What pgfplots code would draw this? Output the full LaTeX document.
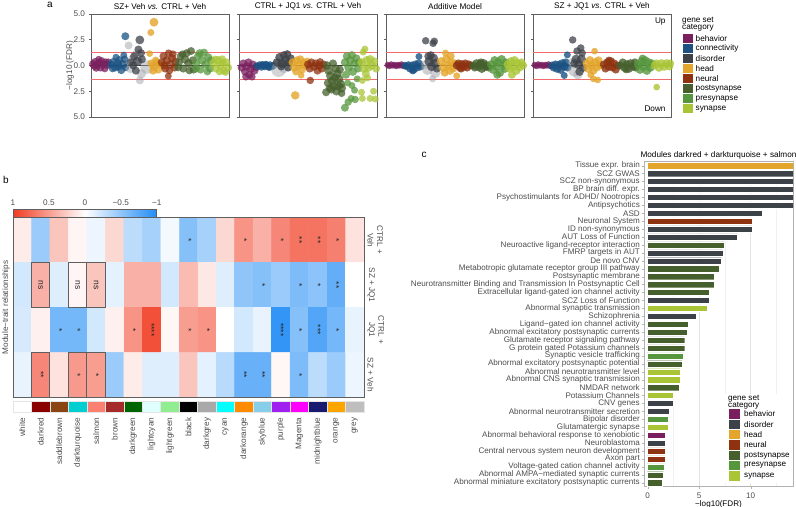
\documentclass[border=0pt]{standalone}
\usepackage{pgfplots}
\pgfplotsset{compat=1.18}
\usepackage{fontspec}
\setmainfont{Liberation Sans}
\definecolor{behav}{HTML}{7A1F5E}
\definecolor{conn}{HTML}{1B5283}
\definecolor{disor}{HTML}{3D4249}
\definecolor{disorL}{HTML}{9EA2A7}
\definecolor{head}{HTML}{E3A52B}
\definecolor{neural}{HTML}{8E3210}
\definecolor{posts}{HTML}{46602D}
\definecolor{pres}{HTML}{56963D}
\definecolor{syn}{HTML}{A9C536}
\definecolor{txtg}{HTML}{4D4D4D}
\definecolor{frameg}{HTML}{5F5F5F}
\definecolor{redl}{HTML}{F26B6B}
\definecolor{m0}{HTML}{FFFFFF}\definecolor{m1}{HTML}{8B0000}\definecolor{m2}{HTML}{8B4513}
\definecolor{m3}{HTML}{00CED1}\definecolor{m4}{HTML}{FA8072}\definecolor{m5}{HTML}{A52A2A}
\definecolor{m6}{HTML}{006400}\definecolor{m7}{HTML}{E0FFFF}\definecolor{m8}{HTML}{90EE90}
\definecolor{m9}{HTML}{000000}\definecolor{m10}{HTML}{A9A9A9}\definecolor{m11}{HTML}{00FFFF}
\definecolor{m12}{HTML}{FF8C00}\definecolor{m13}{HTML}{87CEEB}\definecolor{m14}{HTML}{A020F0}
\definecolor{m15}{HTML}{FF00FF}\definecolor{m16}{HTML}{191970}\definecolor{m17}{HTML}{FFA500}
\definecolor{m18}{HTML}{BEBEBE}
\newcommand\fs{\fontsize{8.2bp}{9.4bp}\selectfont}
\newcommand\fsc{\fontsize{8.1bp}{9.4bp}\selectfont}
\newcommand\fss{\fontsize{8.5bp}{9bp}\selectfont}
\pgfplotsset{
  bub/.style 2 args={scatter, only marks, mark=*, point meta=y,
    scatter/use mapped color={draw=none, draw opacity=0, fill=#1, fill opacity=#2},
    mark options={draw=none},
    visualization depends on={1.35*\thisrow{s}\as\ms},
    scatter/@pre marker code/.append style={/tikz/mark size=\ms}},
  panA/.style={scale only axis, width=138bp, height=103bp, anchor=south west,
    xmin=0, xmax=8, ymin=-5, ymax=5, xtick=\empty, ytick={-5,-2.5,0,2.5,5},
    yticklabels={}, ytick pos=left, tick align=outside, major tick length=2.5bp,
    axis line style={frameg, line width=0.9bp}, tick style={frameg, line width=0.6bp},
    title style={font=\fs, at={(0.5,1)}, anchor=south, inner sep=0pt, yshift=-2bp}},
  thr/.style={redl, line width=0.7bp, forget plot},
  zer/.style={black!80, line width=1.2bp, forget plot},
}
\begin{document}
\begin{tikzpicture}[x=1bp,y=1bp]
\useasboundingbox (0,0) rectangle (796,507);
% ================= panel a =================
\begin{axis}[panA, at={(91bp,390bp)}, title={SZ+ Veh \textit{vs.} CTRL + Veh},
  yticklabels={5.0,2.5,0.0,2.5,5.0}, yticklabel style={font=\fs, text=txtg}]
\addplot[bub={behav}{0.75}] table {
x y s
0.12 0.15 3
0.25 0.35 3
0.35 0.05 3.2
0.5 0.25 3
0.62 0.45 2.8
0.72 0.1 3.2
0.85 0.3 3
0.95 0.05 3
0.3 -0.25 2.8
0.55 -0.2 3
0.8 -0.3 2.8
0.45 0.6 2.6
0.2 -0.05 3
1.0 0.35 2.6
};
\addplot[bub={conn}{0.75}] table {
x y s
1.15 0.1 3
1.3 0.35 3
1.4 -0.2 3
1.55 0.2 3.2
1.65 0.55 2.8
1.75 -0.45 3
1.85 0.1 3.2
1.95 0.6 2.8
1.25 -0.3 2.8
1.6 -0.1 3
2.0 -0.2 2.8
1.9 1.0 2.6
1.45 0.8 2.6
1.99 2.84 3
};
\addplot[bub={disorL}{0.5}] table {
x y s
2.18 1.94 3
2.92 -0.8 3.5
2.83 -1.45 3
2.3 -0.3 3.5
3.25 -0.15 5
2.6 1.1 3
2.4 0.6 3.5
};
\addplot[bub={disor}{0.75}] table {
x y s
2.83 2.48 3.3
2.75 1.55 3
2.9 1.2 3
2.5 0.9 3
2.7 0.4 3.5
2.45 0.0 3
2.95 0.6 3
2.6 -0.5 3
2.3 0.3 3
};
\addplot[bub={head}{0.8}] table {
x y s
3.65 4.2 3.3
3.47 3.2 2.6
3.4 1.15 2.5
3.5 0.2 3
3.65 -0.1 3.2
3.8 0.3 3
3.9 -0.4 3
4.0 0.1 2.8
3.6 -0.5 3
3.75 0.5 2.8
};
\addplot[bub={neural}{0.75}] table {
x y s
4.1 0.3 3
4.2 0.9 3
4.3 -0.3 3
4.4 0.5 3.2
4.5 1.2 2.8
4.6 0.1 3.2
4.7 0.7 3
4.85 -0.2 3
4.9 0.4 3
4.25 0.0 3
4.48 -1.03 2.6
4.75 1.1 2.8
4.55 -0.5 2.8
};
\addplot[bub={posts}{0.75}] table {
x y s
5.1 0.3 3
5.2 0.9 3
5.35 -0.3 3
5.45 0.6 3.2
5.55 1.2 3
5.65 0.2 3.2
5.8 1.4 3
5.9 0.5 3
5.95 -0.4 3
5.3 1.1 2.8
5.7 -0.5 2.8
5.05 -0.2 2.8
};
\addplot[bub={pres}{0.75}] table {
x y s
6.1 0.2 3
6.2 0.9 3
6.35 -0.4 3
6.45 0.5 3.2
6.55 1.25 3
6.65 0.1 3.2
6.8 0.8 3
6.9 -0.3 3
6.95 0.5 3
6.3 1.2 3
6.75 -0.6 2.8
6.1 -0.3 2.8
};
\addplot[bub={syn}{0.75}] table {
x y s
7.1 0.2 3
7.25 -0.3 3
7.35 0.5 3.2
7.5 0.0 3.2
7.6 0.6 3
7.7 -0.5 3
7.85 0.3 3
7.95 -0.2 3
7.2 0.6 2.8
7.45 -0.6 2.8
7.8 -0.65 2.8
7.65 0.25 3
};
\addplot[thr] coordinates {(0,1.3) (8,1.3)};
\addplot[thr] coordinates {(0,-1.3) (8,-1.3)};
\addplot[zer] coordinates {(0,0) (8,0)};
\end{axis}

\begin{axis}[panA, at={(239bp,390bp)}, title={CTRL + JQ1 \textit{vs.} CTRL + Veh}]
\addplot[bub={behav}{0.75}] table {
x y s
0.15 -0.2 3
0.25 0.2 3
0.35 -0.6 3
0.45 -0.1 3.2
0.55 0.3 3
0.6 -0.9 3
0.7 -0.3 3.2
0.8 0.1 3
0.9 -0.5 3
1.0 -0.15 3
0.4 -1.1 2.8
0.75 -1.1 2.8
};
\addplot[bub={conn}{0.8}] table {
x y s
1.05 -0.05 2.8
1.2 0.05 2.8
1.3 -0.15 2.8
1.4 0.0 2.8
1.5 -0.1 2.8
1.6 0.05 2.8
1.7 -0.1 2.8
1.8 0.05 2.8
1.9 -0.1 2.8
2.0 0.0 2.8
1.35 0.1 2.6
1.75 -0.2 2.6
1.55 0.12 2.6
};
\addplot[bub={disorL}{0.45}] table {
x y s
2.3 -0.4 5.5
2.6 -0.3 3.5
2.2 0.1 3
};
\addplot[bub={disor}{0.8}] table {
x y s
2.2 0.3 3.2
2.35 0.8 3.2
2.5 0.2 3.5
2.6 1.0 3
2.7 0.5 3.5
2.8 1.1 3
2.9 0.3 3.2
3.0 0.7 3
2.45 -0.1 3
2.85 -0.2 3
};
\addplot[bub={head}{0.8}] table {
x y s
3.1 0.3 3
3.2 -0.2 3
3.35 0.5 3
3.45 0.0 3.2
3.55 0.6 3
3.65 -0.4 3
3.75 0.3 3
3.85 0.0 3
3.95 0.4 2.8
3.3 -0.6 2.8
3.6 -0.95 2.5
3.26 -2.9 3.2
};
\addplot[bub={neural}{0.75}] table {
x y s
4.0 0.1 3
4.1 -0.3 3
4.2 0.3 3
4.35 -0.1 3.2
4.45 0.2 3
4.55 -0.5 3
4.65 0.0 3.2
4.8 -0.3 3
4.9 0.1 3
4.13 -1.45 2.8
4.7 0.35 2.8
};
\addplot[bub={posts}{0.75}] table {
x y s
5.1 0.0 3.2
5.2 -0.5 3.3
5.3 -1.0 3.3
5.4 -1.5 3.3
5.5 -2.0 3.3
5.35 -2.3 3.3
5.6 -0.3 3.2
5.7 -0.8 3.3
5.8 -1.3 3.3
5.9 -1.8 3.3
5.95 -2.2 3.3
5.65 -2.5 3.2
5.15 -1.7 3
5.45 0.2 3
5.25 -2.2 3
5.75 -2.0 3.3
5.55 -1.2 3.3
5.85 -0.4 3
5.05 -2.6 3
5.95 -2.7 2.8
};
\addplot[bub={pres}{0.75}] table {
x y s
6.15 0.3 3.2
6.25 0.9 3
6.35 -0.2 3.2
6.45 0.5 3.2
6.55 1.0 3
6.6 -0.6 3.2
6.7 0.2 3
6.8 0.7 3
6.9 -0.3 3
6.95 0.3 3
6.2 -0.9 3
6.7 -2.4 2.6
6.55 -1.95 2.6
6.3 -1.7 2.6
6.14 -4.1 3
6.33 -3.55 2.8
6.73 -3.3 2.8
6.5 -3.2 2.6
6.85 -1.3 2.6
};
\addplot[bub={syn}{0.75}] table {
x y s
7.3 1.6 2.6
7.2 1.3 2.6
7.1 0.3 3.2
7.25 -0.3 3.2
7.4 0.5 3.2
7.5 -0.2 3.2
7.6 0.6 3.2
7.7 0.0 3.2
7.85 0.4 3
7.95 -0.3 3
7.35 -0.8 3
7.15 -1.45 2.6
7.1 -2.6 2.6
7.15 -3.2 2.6
7.6 -3.2 2.6
7.8 -2.5 2.6
7.9 -3.25 2.6
7.45 -1.2 2.6
};
\addplot[thr] coordinates {(0,1.3) (8,1.3)};
\addplot[thr] coordinates {(0,-1.3) (8,-1.3)};
\addplot[zer] coordinates {(0,0) (8,0)};
\end{axis}

\begin{axis}[panA, at={(386bp,390bp)}, title={Additive Model}]
\addplot[bub={behav}{0.8}] table {
x y s
0.1 0.05 2.4
0.2 -0.05 2.4
0.3 0.1 2.4
0.4 0.0 2.4
0.5 0.05 2.4
0.6 -0.05 2.4
0.7 0.05 2.4
0.8 0.0 2.4
0.9 0.1 2.4
1.0 -0.05 2.4
};
\addplot[bub={conn}{0.8}] table {
x y s
1.1 0.0 2.8
1.2 -0.1 2.8
1.3 0.05 2.8
1.4 -0.3 3
1.5 0.0 3
1.6 -0.4 3
1.7 0.1 3
1.8 -0.2 3
1.9 0.2 3
1.91 0.87 2.6
2.0 -0.1 3
1.55 -0.5 2.8
};
\addplot[bub={disorL}{0.5}] table {
x y s
2.4 -0.4 4
2.7 -1.3 2.6
2.85 -0.7 4
2.3 0.1 3.5
};
\addplot[bub={disor}{0.75}] table {
x y s
2.3 2.4 2.8
2.73 2.15 2.8
2.8 2.35 2.8
2.5 0.4 3.5
2.65 -0.1 3.5
2.75 0.7 3.5
2.85 0.2 3.5
2.45 0.9 3
2.95 -0.3 3
2.6 1.0 3
};
\addplot[bub={head}{0.8}] table {
x y s
3.2 0.4 3.2
3.3 -0.2 3.2
3.45 1.2 2.6
3.5 0.6 3.2
3.6 0.0 3.2
3.7 -0.5 3.2
3.8 0.3 3
3.9 -0.3 3
4.0 0.2 3
4.1 -1.0 2.6
3.4 -0.7 3
3.75 0.9 3
};
\addplot[bub={neural}{0.8}] table {
x y s
4.1 0.0 3
4.2 0.2 3
4.3 -0.2 3
4.4 0.1 3.2
4.5 -0.1 3.2
4.6 0.2 3
4.7 -0.2 3
4.8 0.1 3
4.9 0.0 3
4.35 -0.3 3
};
\addplot[bub={posts}{0.8}] table {
x y s
5.05 0.0 3
5.15 -0.2 3
5.25 0.2 3.2
5.35 -0.1 3.3
5.45 0.1 3.3
5.55 -0.3 3.3
5.65 0.2 3.3
5.75 -0.1 3.3
5.85 0.0 3.2
5.95 -0.2 3
5.5 0.3 3
};
\addplot[bub={pres}{0.8}] table {
x y s
6.1 0.1 3.2
6.2 -0.4 3.2
6.3 0.5 3.2
6.4 -0.1 3.2
6.5 0.3 3.2
6.6 -0.7 3.2
6.7 0.6 3.2
6.8 0.0 3.2
6.9 -0.3 3.2
6.95 0.3 3
6.45 -0.9 3
};
\addplot[bub={syn}{0.8}] table {
x y s
7.05 0.1 3
7.15 -0.3 3
7.25 0.4 3.2
7.35 -0.1 3.2
7.45 0.5 3.2
7.55 -0.5 3.2
7.65 0.2 3.2
7.75 -0.2 3
7.85 0.3 3
7.95 0.0 3
7.3 -0.9 3
};
\addplot[thr] coordinates {(0,1.3) (8,1.3)};
\addplot[thr] coordinates {(0,-1.3) (8,-1.3)};
\addplot[zer] coordinates {(0,0) (8,0)};
\end{axis}

\begin{axis}[panA, at={(533bp,390bp)}, title={SZ + JQ1 \textit{vs.} CTRL + Veh}]
\addplot[bub={behav}{0.8}] table {
x y s
0.1 0.05 2.4
0.2 -0.05 2.4
0.3 0.1 2.4
0.4 0.0 2.4
0.5 0.05 2.4
0.6 -0.05 2.4
0.7 0.05 2.4
0.8 0.0 2.4
0.9 0.1 2.4
1.0 -0.05 2.4
};
\addplot[bub={conn}{0.8}] table {
x y s
1.1 0.0 3
1.2 -0.2 3
1.3 0.1 3
1.4 -0.3 3.2
1.5 0.05 3.2
1.6 -0.4 3.2
1.7 0.2 3.2
1.8 -0.1 3.2
1.81 -0.97 2.6
1.99 1.03 2.6
1.9 0.3 3
2.0 -0.2 3
};
\addplot[bub={disorL}{0.5}] table {
x y s
2.4 -0.5 4.5
2.3 0.3 3.5
2.6 -0.9 3.5
};
\addplot[bub={disor}{0.75}] table {
x y s
2.3 2.48 2.8
2.77 1.7 2.8
2.55 1.4 2.8
2.85 1.2 2.8
2.5 0.6 3.5
2.65 0.1 3.5
2.8 0.6 3.5
2.9 -0.2 3.2
2.4 0.2 3.2
2.7 -0.6 3.2
};
\addplot[bub={head}{0.8}] table {
x y s
3.1 0.2 3
3.2 -0.3 3.2
3.3 0.5 3.2
3.4 0.0 3.2
3.57 1.39 2.5
3.5 -0.5 3
3.6 0.3 3.2
3.7 -0.2 3
3.8 0.5 3
3.9 0.0 3
3.5 -1.3 2.5
3.75 -1.4 2.5
3.35 -0.9 2.6
};
\addplot[bub={neural}{0.8}] table {
x y s
4.1 0.1 3
4.2 -0.3 3
4.3 0.3 3
4.4 -0.1 3.2
4.5 0.4 3.2
4.6 -0.2 3
4.7 0.2 3
4.8 -0.4 3
4.9 0.0 3
4.4 0.5 2.8
};
\addplot[bub={posts}{0.8}] table {
x y s
5.05 0.0 3
5.2 0.3 3
5.3 -0.2 3.2
5.45 0.1 3.2
5.55 -0.3 3.2
5.65 0.2 3.2
5.8 -0.1 3.2
5.9 0.3 3
5.95 -0.2 3
5.4 -0.4 2.8
};
\addplot[bub={pres}{0.8}] table {
x y s
6.1 0.1 3.2
6.2 -0.4 3.2
6.3 0.4 3.2
6.4 -0.1 3.3
6.5 0.5 3.2
6.6 -0.5 3.2
6.7 0.3 3.2
6.8 -0.2 3.2
6.9 0.2 3
6.35 0.7 2.8
};
\addplot[bub={syn}{0.8}] table {
x y s
7.05 0.0 3
7.15 0.2 3
7.3 -0.2 3.2
7.45 0.2 3.2
7.6 -0.1 3.2
7.75 0.2 3.2
7.9 -0.1 3
7.95 0.2 3
7.17 -2.1 2.5
};
\addplot[thr] coordinates {(0,1.3) (8,1.3)};
\addplot[thr] coordinates {(0,-1.3) (8,-1.3)};
\addplot[zer] coordinates {(0,0) (8,0)};
\end{axis}
\node[font=\fs, anchor=east] at (669,485) {Up};
\node[font=\fs, anchor=east] at (669,398) {Down};
\node[rotate=90, font=\fs, text=txtg] at (70,441.5) {−log10 (FDR)};
\node[font=\fontsize{10bp}{11bp}\selectfont] at (50,502) {a};
% legend a
\node[font=\fs, anchor=base west, inner sep=0pt] at (682,484.8) {gene set};
\node[font=\fs, anchor=base west, inner sep=0pt] at (682,477.8) {category};
\foreach \c/\t [count=\i from 0] in {behav/behavior, conn/connectivity, disor/disorder, head/head, neural/neural, posts/postsynapse, pres/presynapse, syn/synapse}{
  \fill[\c] (683,{468.3-10*\i-4.5}) rectangle (692.5,{468.3-10*\i+4.5});
  \node[font=\fs, anchor=west, inner sep=0pt] at (695.5,{468.3-10*\i}) {\t};
}
% ================= panel b =================
\begin{axis}[at={(13bp,109.7bp)}, anchor=south west, scale only axis, width=351bp, height=179.6bp,
  xmin=-0.5, xmax=18.5, ymin=-0.5, ymax=3.5, y dir=reverse, enlargelimits=false,
  colormap={rwb}{rgb255=(33,140,245) rgb255=(255,255,255) rgb255=(240,60,35)},
  point meta min=-1, point meta max=1,
  xtick={0,...,18},
  xticklabels={white,darkred,saddlebrown,darkturquoise,salmon,brown,darkgreen,lightcyan,lightgreen,black,darkgrey,cyan,darkorange,skyblue,purple,Magenta,midnightblue,orange,grey},
  xticklabel style={rotate=90, anchor=east, font=\fs, text=txtg}, xticklabel shift=17bp,
  ytick={0,1,2,3}, yticklabels={{CTRL +\\Veh},{SZ + JQ1},{CTRL +\\JQ1},{SZ + Veh}},
  yticklabel pos=right, yticklabel style={rotate=-90, anchor=south, align=center, font=\fs, text=txtg},
  major tick length=0pt, axis line style={frameg, line width=0.9bp}, axis on top,
  colorbar horizontal,
  colorbar style={at={(0,1)}, anchor=south west, yshift=8.7bp, width=143.7bp, height=8.3bp,
    scale only axis, x dir=reverse, xtick={-1,-0.5,0,0.5,1}, xticklabels={−1,−0.5,0,0.5,1},
    xticklabel pos=upper, xticklabel style={font=\fs, text=txtg}, major tick length=0pt,
    axis line style={frameg, line width=0.5bp}},
]
\addplot[matrix plot*, mesh/cols=19, point meta=explicit] table[meta=v] {
x y v
0 0 0.1
1 0 -0.45
2 0 0.3
3 0 0.05
4 0 -0.08
5 0 0.2
6 0 -0.3
7 0 -0.4
8 0 -0.05
9 0 -0.55
10 0 -0.4
11 0 0.2
12 0 0.55
13 0 0.4
14 0 0.62
15 0 0.72
16 0 0.72
17 0 0.65
18 0 0.15
0 1 -0.2
1 1 0.4
2 1 -0.15
3 1 0.05
4 1 0.3
5 1 -0.12
6 1 0.4
7 1 0.4
8 1 -0.2
9 1 0.35
10 1 0.12
11 1 -0.15
12 1 -0.5
13 1 -0.55
14 1 -0.45
15 1 -0.58
16 1 -0.52
17 1 -0.7
18 1 0
0 2 -0.18
1 2 0.08
2 2 -0.62
3 2 -0.62
4 2 -0.2
5 2 0.08
6 2 0.55
7 2 0.9
8 2 0.04
9 2 0.5
10 2 0.55
11 2 0
12 2 -0.2
13 2 -0.1
14 2 -0.92
15 2 -0.55
16 2 -0.78
17 2 -0.62
18 2 -0.1
0 3 -0.1
1 3 0.62
2 3 0.15
3 3 0.52
4 3 0.5
5 3 -0.45
6 3 0.1
7 3 -0.15
8 3 -0.15
9 3 0.3
10 3 -0.12
11 3 -0.32
12 3 -0.68
13 3 -0.68
14 3 0.04
15 3 -0.58
16 3 -0.3
17 3 -0.45
18 3 -0.08
};
\addplot[draw=none, nodes near coords, point meta=explicit symbolic,
  nodes near coords style={anchor=center, rotate=-90, font=\fss, text=black!85}] table[meta=t] {
x y t
9 0 *
12 0 *
14 0 *
15 0 **
16 0 **
17 0 *
1 1 ns
3 1 ns
4 1 ns
13 1 *
15 1 *
16 1 *
17 1 **
2 2 *
3 2 *
6 2 *
7 2 ****
9 2 *
10 2 *
14 2 ****
15 2 *
16 2 ***
17 2 *
1 3 **
3 3 *
4 3 *
12 3 **
13 3 **
15 3 *
};
\draw[frameg, line width=1bp] (axis cs:0.5,0.5) rectangle (axis cs:1.5,1.5);
\draw[frameg, line width=1bp] (axis cs:2.5,0.5) rectangle (axis cs:3.5,1.5);
\draw[frameg, line width=1bp] (axis cs:3.5,0.5) rectangle (axis cs:4.5,1.5);
\draw[frameg, line width=1bp] (axis cs:0.5,2.5) rectangle (axis cs:1.5,3.5);
\draw[frameg, line width=1bp] (axis cs:2.5,2.5) rectangle (axis cs:3.5,3.5);
\draw[frameg, line width=1bp] (axis cs:3.5,2.5) rectangle (axis cs:4.5,3.5);
\end{axis}
\foreach \i in {0,...,18}{
  \fill[m\i, draw=gray!20, line width=0.6bp] ({13+\i*18.474},94.3) rectangle ({13+(\i+1)*18.474},106);
}
\node[rotate=90, font=\fs, text=txtg] at (6,199.5) {Module−trait relationships};
\node[font=\fontsize{10bp}{11bp}\selectfont] at (6,327) {b};
% ================= panel c =================
\begin{axis}[at={(644bp,20.3bp)}, anchor=south west, scale only axis, width=149bp, height=325bp,
  xmin=-0.35, xmax=14.1, ymin=0.5, ymax=41.5, y dir=reverse,
  xbar, bar width=0.78, bar shift=0pt,
  ytick={1,...,41},
  yticklabels={Tissue expr. brain,SCZ GWAS,SCZ non-synonymous,BP brain diff. expr.,Psychostimulants for ADHD/ Nootropics,Antipsychotics,ASD,Neuronal System,ID non-synonymous,AUT Loss of Function,Neuroactive ligand-receptor interaction,FMRP targets in AUT,De novo CNV,Metabotropic glutamate receptor group III pathway,Postsynaptic membrane,Neurotransmitter Binding and Transmission In Postsynaptic Cell,Extracellular ligand-gated ion channel activity,SCZ Loss of Function,Abnormal synaptic transmission,Schizophrenia,Ligand−gated ion channel activity,Abnormal excitatory postsynaptic currents,Glutamate receptor signaling pathway,G protein gated Potassium channels,Synaptic vesicle trafficking,Abnormal excitatory postsynaptic potential,Abnormal neurotransmitter level,Abnormal CNS synaptic transmission,NMDAR network,Potassium Channels,CNV genes,Abnormal neurotransmitter secretion,Bipolar disorder,Glutamatergic synapse,Abnormal behavioral response to xenobiotic,Neuroblastoma,Central nervous system neuron development,Axon part,Voltage-gated cation channel activity,Abnormal AMPA−mediated synaptic currents,Abnormal miniature excitatory postsynaptic currents},
  yticklabel style={font=\fsc, text=txtg, inner sep=1.5bp},
  xtick={0,5,10}, xticklabels={0,5,10}, xticklabel style={font=\fsc, text=txtg},
  minor xtick={2.5,7.5,12.5}, xmajorgrids, xminorgrids,
  major grid style={gray!22, line width=0.5bp}, minor grid style={gray!11, line width=0.4bp},
  tick align=outside, major tick length=2.5bp, minor tick length=0pt,
  xtick pos=lower, ytick pos=left, tick style={gray!60},
  axis line style={gray!60, line width=0.8bp},
  title={Modules darkred + darkturquoise + salmon},
  title style={font=\fs, inner sep=0pt, anchor=south, at={(0.5,1)}, yshift=-4bp},
  xlabel={−log10(FDR)}, xlabel style={font=\fsc, inner sep=0pt, yshift=1.5bp},
  every axis plot/.append style={draw=white, line width=0.3bp},
]
\addplot[fill=head] coordinates {(14.5,1)};
\addplot[fill=disor] coordinates {(14.5,2) (14.5,3) (14.5,4) (14.5,5) (14.5,6) (11.1,7) (10.1,9) (8.7,10) (7.3,12) (7.15,13) (5.97,18) (4.68,20) (2.45,31) (2.13,32) (1.74,36)};
\addplot[fill=neural] coordinates {(10.1,8) (1.68,37) (1.68,38)};
\addplot[fill=posts] coordinates {(7.45,11) (6.9,14) (6.45,15) (6.45,16) (5.97,17) (3.97,21) (3.8,22) (3.6,23) (3.6,24) (3.35,26) (3.03,29) (1.52,40) (1.42,41)};
\addplot[fill=syn] coordinates {(5.74,19) (3.13,27) (3.13,28) (2.52,30) (1.97,34)};
\addplot[fill=pres] coordinates {(3.48,25) (2.03,33) (1.65,39)};
\addplot[fill=behav] coordinates {(1.74,35)};
\end{axis}
\node[font=\fontsize{10bp}{11bp}\selectfont] at (424,352) {c};
% legend c
\fill[white] (724,24) rectangle (792,113);
\node[font=\fsc, anchor=base west, inner sep=0pt] at (728,106.5) {gene set};
\node[font=\fsc, anchor=base west, inner sep=0pt] at (728,99.5) {category};
\foreach \c/\t [count=\i from 0] in {behav/behavior, disor/disorder, head/head, neural/neural, posts/postsynapse, pres/presynapse, syn/synapse}{
  \fill[\c] (729,{93-10.33*\i-4.8}) rectangle (740,{93-10.33*\i+4.8});
  \node[font=\fsc, anchor=west, inner sep=0pt] at (744,{93-10.33*\i}) {\t};
}
\end{tikzpicture}
\end{document}
